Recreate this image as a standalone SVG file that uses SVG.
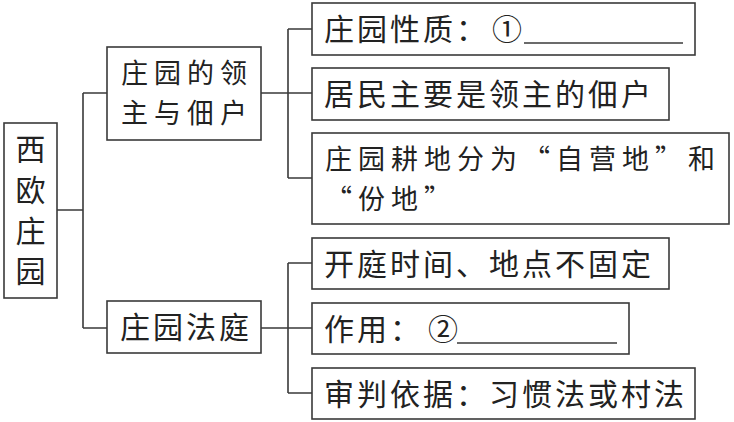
<svg xmlns="http://www.w3.org/2000/svg" width="734" height="422" viewBox="0 0 734 422">
<style>
.box{fill:#fff;stroke:#3a3a3a;stroke-width:1.6}
.ln{fill:none;stroke:#3a3a3a;stroke-width:1.6}
.t{font-family:"Noto Sans CJK SC","Noto Sans CJK JP",sans-serif;font-size:30px;fill:#222;letter-spacing:3px}
.t2{font-family:"Noto Sans CJK SC","Noto Sans CJK JP",sans-serif;font-size:27px;fill:#222;letter-spacing:6px}
.tc{font-family:"Noto Sans CJK SC","Noto Sans CJK JP",sans-serif;font-size:30px;fill:#222;text-anchor:middle}
</style>
<rect width="734" height="422" fill="#fff"/>
<g id="connectors">
<path class="ln" d="M57 210H83M83 93V328M83 93H107M83 328H107"/>
<path class="ln" d="M261 93H312M288 29V178M288 29H312M288 178H312"/>
<path class="ln" d="M261 328H312M288 263V393M288 263H312M288 393H312"/>
</g>
<g id="root">
<rect class="box" x="4" y="123" width="53" height="175"/>
<text class="tc" x="30.5" y="160">西</text>
<text class="tc" x="30.5" y="201">欧</text>
<text class="tc" x="30.5" y="242">庄</text>
<text class="tc" x="30.5" y="282">园</text>
</g>
<g id="lord">
<rect class="box" x="107" y="47" width="154" height="93"/>
<text class="t2" x="121" y="83">庄园的领<tspan x="121" y="123">主与佃户</tspan></text>
</g>
<g id="court">
<rect class="box" x="107" y="301" width="154" height="52"/>
<text class="t" x="120" y="338">庄园法庭</text>
</g>
<g id="nature">
<rect class="box" x="312" y="3" width="383" height="52"/>
<text class="t" x="324" y="40">庄园性质：<tspan x="492" letter-spacing="0">①</tspan></text>
<path class="ln" d="M524 43H683"/>
</g>
<g id="residents">
<rect class="box" x="312" y="68" width="357" height="52"/>
<text class="t" x="324" y="105">居民主要是领主的佃户</text>
</g>
<g id="land">
<rect class="box" x="312" y="133" width="417" height="91"/>
<text class="t2" x="325" y="169">庄园耕地分为“自营地”和<tspan x="325" y="209">“份地”</tspan></text>
</g>
<g id="time">
<rect class="box" x="312" y="238" width="357" height="51"/>
<text class="t" x="324" y="275">开庭时间、地点不固定</text>
</g>
<g id="function">
<rect class="box" x="312" y="303" width="317" height="51"/>
<text class="t" x="324" y="340">作用：<tspan x="428" letter-spacing="0">②</tspan></text>
<path class="ln" d="M457 343H617"/>
</g>
<g id="basis">
<rect class="box" x="312" y="368" width="383" height="51"/>
<text class="t" x="324" y="405">审判依据：习惯法或村法</text>
</g>
</svg>
